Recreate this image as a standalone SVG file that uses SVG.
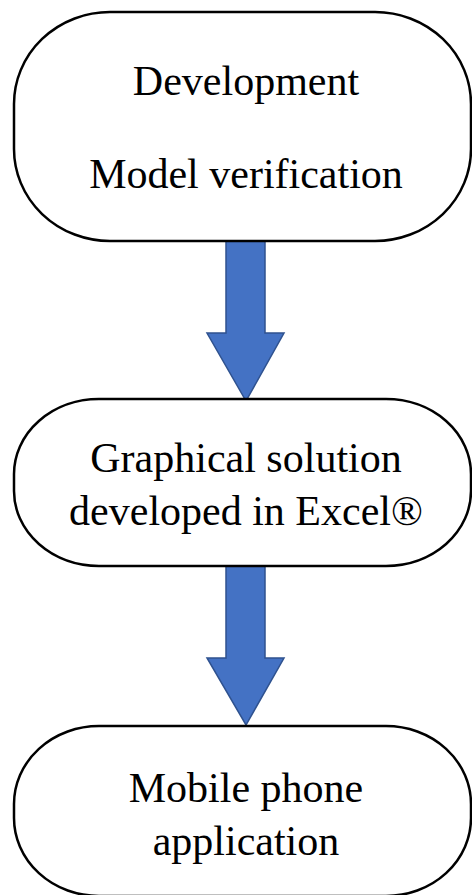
<svg xmlns="http://www.w3.org/2000/svg" width="472" height="895" viewBox="0 0 472 895">
  <style>
    .box { fill: #ffffff; stroke: #000000; stroke-width: 2.5; }
    .label { font-family: "Liberation Serif", "Times New Roman", serif; font-size: 42px; fill: #000000; text-anchor: middle; }
    .arrow { fill: #4472C4; stroke: #2F528F; stroke-width: 1.5; stroke-linejoin: miter; }
  </style>
  <rect width="472" height="895" fill="#ffffff"/>

  <g id="connectors">
    <path class="arrow" d="M226,241 L265,241 L265,333 L284,333 L246,401 L207,333 L226,333 Z"/>
    <path class="arrow" d="M226,566 L265,566 L265,658 L284,658 L246,725 L207,658 L226,658 Z"/>
  </g>

  <g id="node-development">
    <rect class="box" x="14" y="12" width="457" height="229" rx="96" ry="92"/>
    <text class="label" x="246" y="95">Development</text>
    <text class="label" x="246" y="188">Model verification</text>
  </g>

  <g id="node-excel">
    <rect class="box" x="14" y="399" width="457" height="167" rx="85" ry="75"/>
    <text class="label" x="246" y="472">Graphical solution</text>
    <text class="label" x="246" y="525">developed in Excel®</text>
  </g>

  <g id="node-mobile">
    <rect class="box" x="14" y="726" width="457" height="170" rx="85" ry="78"/>
    <text class="label" x="246" y="802">Mobile phone</text>
    <text class="label" x="246" y="855">application</text>
  </g>
</svg>
